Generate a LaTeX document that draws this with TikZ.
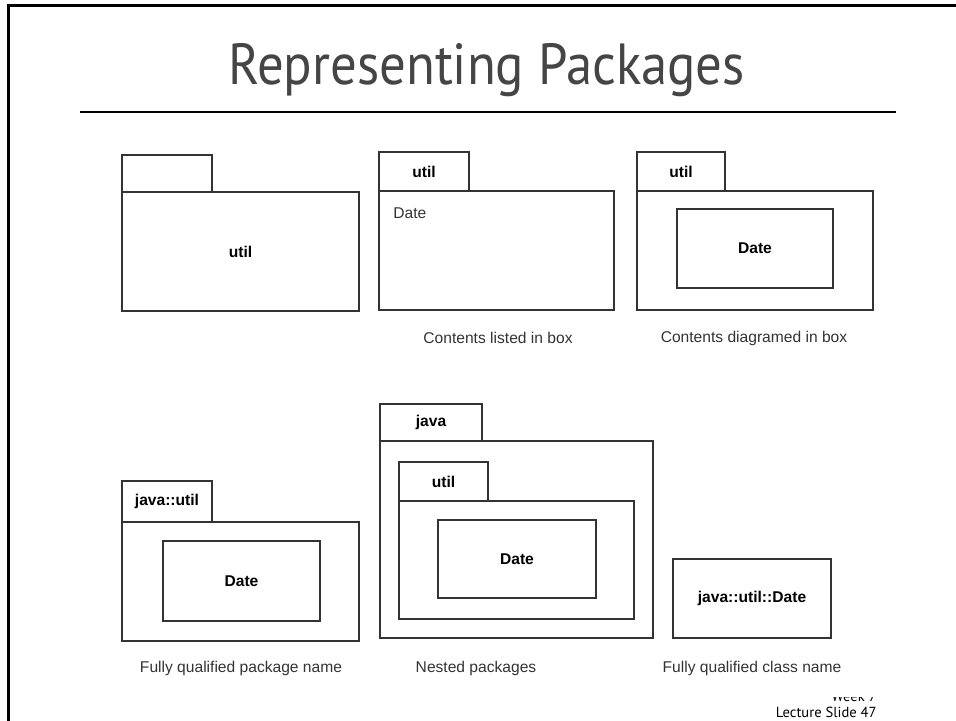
\documentclass[tikz,border=0pt]{standalone}
\usepackage{fontspec}
\setmainfont{Liberation Sans}
\newfontfamily\slidefont{PT Sans}
\newfontfamily\headfont{PT Sans}[FakeStretch=0.91]
\usetikzlibrary{positioning}

\definecolor{inkgray}{HTML}{333333}
\definecolor{titlegray}{HTML}{454545}

\begin{document}
\begin{tikzpicture}[x=0.5pt, y=-0.5pt, font=\fontsize{7.8}{9}\selectfont]
    % Styles
    \tikzstyle{pkgtab} = [rectangle, draw=inkgray, line width=0.75pt, inner sep=0pt,
    outer sep=0pt, anchor=north west, font=\fontsize{7.8}{9}\selectfont\bfseries]
    \tikzstyle{pkgbody} = [rectangle, draw=inkgray, line width=0.75pt, inner sep=0pt,
    outer sep=0pt, anchor=north west, font=\fontsize{7.8}{9}\selectfont\bfseries]
    \tikzstyle{classbox} = [rectangle, draw=inkgray, line width=0.75pt, inner sep=0pt,
    outer sep=0pt, font=\fontsize{7.8}{9}\selectfont\bfseries]
    \tikzstyle{caption} = [text=inkgray, inner sep=0pt]

    \useasboundingbox (0,0) rectangle (956,721);

    % Slide frame and heading
    \draw[line width=1.3pt] (8.5,721) -- (8.5,5.5) -- (956,5.5);
    \node[anchor=base, text=titlegray, font=\headfont\fontsize{29}{32}\selectfont] (title) at (486.5,85) {Representing Packages};
    \coordinate (ruleL) at (80,112);
    \coordinate (ruleR) at (896,112);
    \draw[line width=1.1pt] (ruleL) -- (ruleR);

    % Plain package
    \node[pkgtab, minimum width=45pt, minimum height=18.5pt] (tabA) at (122,155) {};
    \node[pkgbody, minimum width=118.5pt, minimum height=59.5pt] (bodyA) at (tabA.south west) {util};

    % Contents listed in box
    \node[pkgtab, minimum width=45pt, minimum height=19.5pt] (tabB) at (379,152) {util};
    \node[pkgbody, minimum width=117.5pt, minimum height=59.5pt] (bodyB) at (tabB.south west) {};
    \node[caption, anchor=west] (listB) at (393,213) {Date};
    \node[caption] (capB) at (498,338) {Contents listed in box};

    % Contents diagramed in box
    \node[pkgtab, minimum width=44pt, minimum height=19.5pt] (tabC) at (637,152) {util};
    \node[pkgbody, minimum width=118pt, minimum height=59.5pt] (bodyC) at (tabC.south west) {};
    \node[classbox, minimum width=78pt, minimum height=39.5pt] (dateC) at (755,248.5) {Date};
    \node[caption] (capC) at (754,338) {Contents diagramed in box};

    % Fully qualified package name
    \node[pkgtab, minimum width=45pt, minimum height=20.5pt] (tabD) at (122,481) {java::util};
    \node[pkgbody, minimum width=118.5pt, minimum height=59.5pt] (bodyD) at (tabD.south west) {};
    \node[classbox, minimum width=78.5pt, minimum height=40pt] (dateD) at (241.5,581) {Date};
    \node[caption] (capD) at (241,668) {Fully qualified package name};

    % Nested packages
    \node[pkgtab, minimum width=51pt, minimum height=18.5pt] (tabJava) at (380,404) {java};
    \node[pkgbody, minimum width=136.5pt, minimum height=98.5pt] (bodyJava) at (tabJava.south west) {};
    \node[pkgtab, minimum width=44.5pt, minimum height=19.5pt] (tabUtil) at (399,462) {util};
    \node[pkgbody, minimum width=117.5pt, minimum height=59pt] (bodyUtil) at (tabUtil.south west) {};
    \node[classbox, minimum width=79pt, minimum height=39pt] (dateE) at (517,559) {Date};
    \node[caption] (capE) at (476,668) {Nested packages};

    % Fully qualified class name
    \node[classbox, minimum width=79pt, minimum height=39.5pt] (dateF) at (752,598.5) {java::util::Date};
    \node[caption] (capF) at (752,668) {Fully qualified class name};

    % Footer
    \begin{scope}
        \clip (700,697) rectangle (956,721);
        \node[anchor=base east, inner sep=0pt, font=\slidefont\fontsize{7.3}{8}\selectfont] (week) at (877,701) {Week 7};
    \end{scope}
    \node[anchor=base east, inner sep=0pt, font=\slidefont\fontsize{7.3}{8}\selectfont] (slide) at (877,717) {Lecture Slide 47};
\end{tikzpicture}
\end{document}
